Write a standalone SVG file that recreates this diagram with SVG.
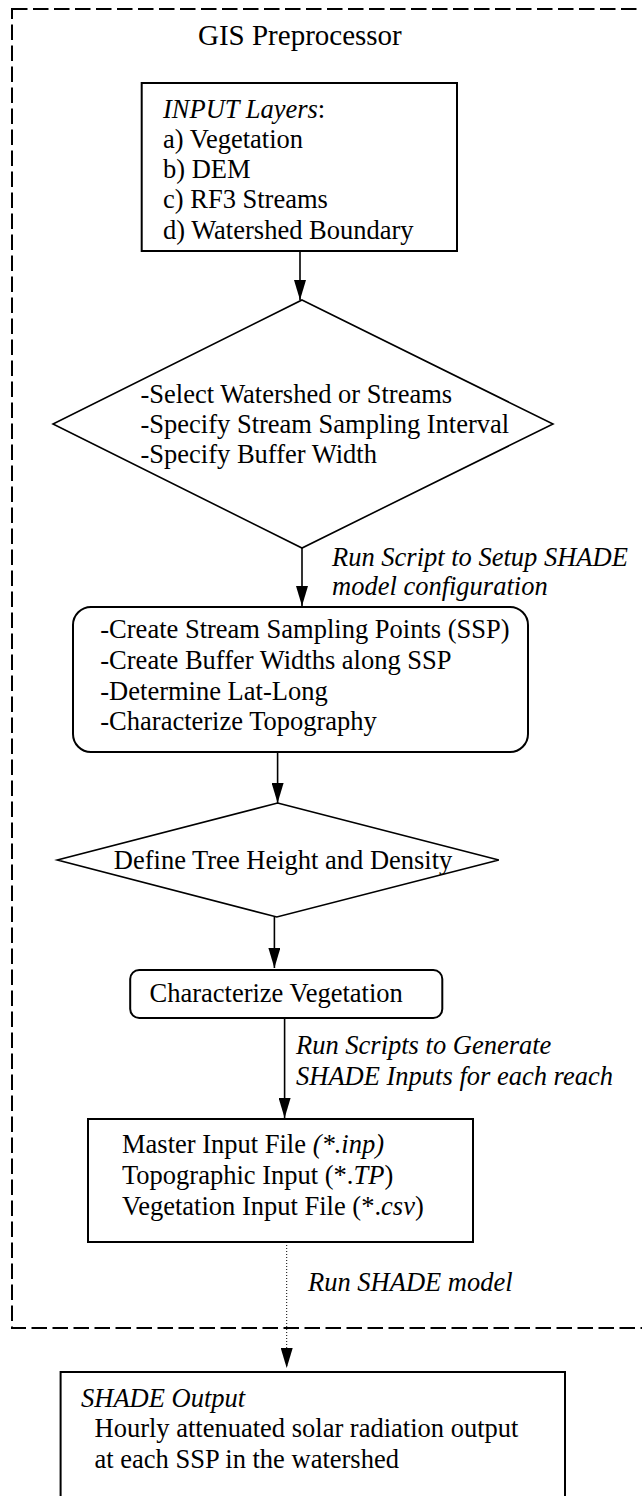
<svg xmlns="http://www.w3.org/2000/svg" width="642" height="1496" viewBox="0 0 642 1496">
<style>
  .t { font-family: "Liberation Serif", "Times New Roman", serif; font-size: 26.5px; fill: #000; }
  .i { font-style: italic; }
  .title { font-family: "Liberation Serif", "Times New Roman", serif; font-size: 29px; fill: #000; }
  .box { fill: #fff; stroke: #000; stroke-width: 2; }
  .dia { fill: #fff; stroke: #000; stroke-width: 1.6; }
  .conn { fill: none; stroke: #000; stroke-width: 1.6; }
  .dot { fill: none; stroke: #000; stroke-width: 1; stroke-dasharray: 1 2; }
  .frame { fill: none; stroke: #000; stroke-width: 2; stroke-dasharray: 15.5 5.5; }
</style>
<defs>
  <marker id="arrow" markerUnits="userSpaceOnUse" markerWidth="20" markerHeight="12" viewBox="0 0 20 12" refX="20" refY="6" orient="auto">
    <path d="M0,0 L20,6 L0,12 z" fill="#000"/>
  </marker>
</defs>
<rect width="642" height="1496" fill="#fff"/>

<g id="frame">
  <rect class="frame" x="12" y="9" width="660" height="1319"/>
  <text class="title" x="198" y="45">GIS Preprocessor</text>
</g>

<g id="connectors">
  <line class="conn" x1="300" y1="251" x2="300" y2="300" marker-end="url(#arrow)"/>
  <line class="conn" x1="302" y1="548" x2="302" y2="606" marker-end="url(#arrow)"/>
  <line class="conn" x1="277.6" y1="752" x2="277.6" y2="803" marker-end="url(#arrow)"/>
  <line class="conn" x1="274.4" y1="917" x2="274.4" y2="968" marker-end="url(#arrow)"/>
  <line class="conn" x1="284.6" y1="1018" x2="284.6" y2="1118" marker-end="url(#arrow)"/>
  <line class="dot" x1="286.7" y1="1242" x2="286.7" y2="1368" marker-end="url(#arrow)"/>
  <text class="t i" x="332" y="566">Run Script to Setup SHADE</text>
  <text class="t i" x="332" y="595">model configuration</text>
  <text class="t i" x="296" y="1054">Run Scripts to Generate</text>
  <text class="t i" x="296" y="1085">SHADE Inputs for each reach</text>
  <text class="t i" x="308" y="1291">Run SHADE model</text>
</g>

<g id="input-layers">
  <rect class="box" x="141.7" y="83" width="315.3" height="168"/>
  <text class="t" x="163" y="118"><tspan class="i">INPUT Layers</tspan>:</text>
  <text class="t" x="163" y="148">a) Vegetation</text>
  <text class="t" x="163" y="178">b) DEM</text>
  <text class="t" x="163" y="208">c) RF3 Streams</text>
  <text class="t" x="163" y="239">d) Watershed Boundary</text>
</g>

<g id="select-decision">
  <polygon class="dia" points="302,300 553,424 302,548 53,424"/>
  <text class="t" x="140.5" y="403">-Select Watershed or Streams</text>
  <text class="t" x="140.5" y="433">-Specify Stream Sampling Interval</text>
  <text class="t" x="140.5" y="463">-Specify Buffer Width</text>
</g>

<g id="create-ssp">
  <rect class="box" x="73" y="607" width="455" height="145" rx="18" ry="18"/>
  <text class="t" x="100.3" y="638">-Create Stream Sampling Points (SSP)</text>
  <text class="t" x="100.3" y="669">-Create Buffer Widths along SSP</text>
  <text class="t" x="100.3" y="700">-Determine Lat-Long</text>
  <text class="t" x="100.3" y="730">-Characterize Topography</text>
</g>

<g id="tree-decision">
  <polygon class="dia" points="277.6,803 498.8,860 276.8,917 57.3,860"/>
  <text class="t" x="113.8" y="869">Define Tree Height and Density</text>
</g>

<g id="characterize-vegetation">
  <rect class="box" x="130.2" y="970" width="312.1" height="48" rx="9" ry="9"/>
  <text class="t" x="149.5" y="1002">Characterize Vegetation</text>
</g>

<g id="input-files">
  <rect class="box" x="88" y="1119" width="385" height="123"/>
  <text class="t" x="122" y="1153">Master Input File <tspan class="i">(*.inp)</tspan></text>
  <text class="t" x="122" y="1184">Topographic Input (*.<tspan class="i">TP</tspan>)</text>
  <text class="t" x="122" y="1215">Vegetation Input File (*.<tspan class="i">csv</tspan>)</text>
</g>

<g id="shade-output">
  <rect class="box" x="60.6" y="1372" width="504.4" height="140"/>
  <text class="t i" x="81" y="1407">SHADE Output</text>
  <text class="t" x="94.5" y="1437">Hourly attenuated solar radiation output</text>
  <text class="t" x="94.5" y="1468">at each SSP in the watershed</text>
</g>
</svg>
